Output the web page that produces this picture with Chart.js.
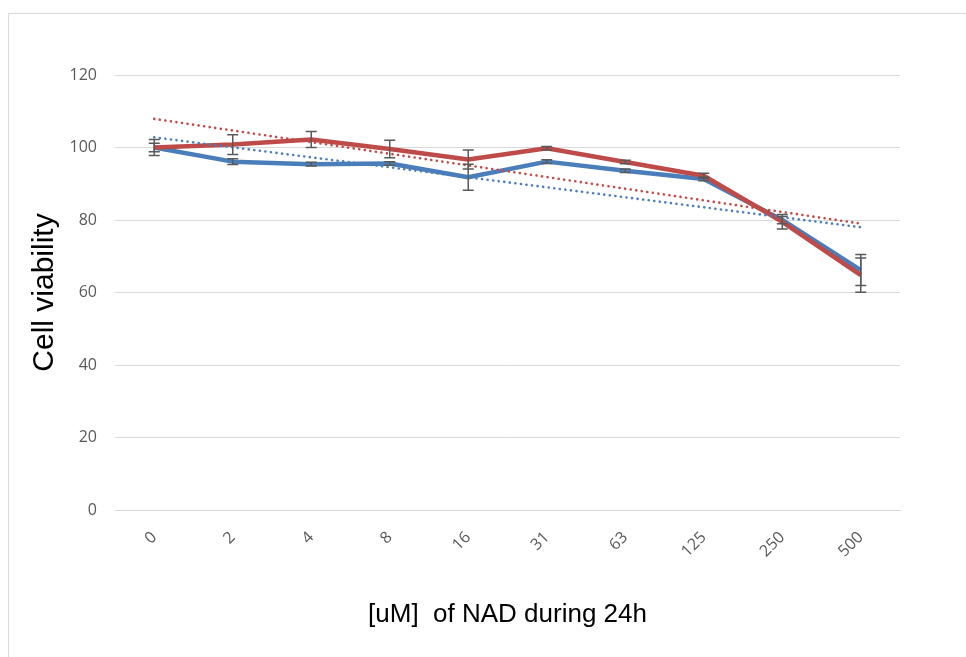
<!DOCTYPE html>
<html>
<head>
<meta charset="utf-8">
<script src="https://cdn.jsdelivr.net/npm/chart.js@4"></script>
<style>
  html, body { margin: 0; padding: 0; background: #fff; }
  #wrap { position: relative; width: 966px; height: 657px; }
  #frame { position: absolute; left: 8px; top: 13px; right: 0; bottom: 0;
           border-left: 1px solid #d9d9d9; border-top: 1px solid #d9d9d9; }
  canvas { position: absolute; left: 0; top: 0; }
</style>
</head>
<body>
<div id="wrap">
  <div id="frame"></div>
  <canvas id="c" width="966" height="657"></canvas>
</div>
<script>
const categories = ['0', '2', '4', '8', '16', '31', '63', '125', '250', '500'];
const blueValues = [100, 96.1, 95.4, 95.6, 91.8, 96.1, 93.6, 91.3, 80.0, 66.2];
const redValues  = [100, 100.8, 102.2, 99.6, 96.7, 99.8, 96.0, 92.2, 79.5, 64.8];
const blueErrors = [1.2, 0.8, 0.5, 0.5, 3.6, 0.5, 0.5, 0.5, 1.0, 4.3];
const redErrors  = [2.2, 2.7, 2.2, 2.4, 2.6, 0.5, 0.5, 0.7, 2.0, 4.7];
const blueTrend  = [102.8, null, null, null, null, null, null, null, null, 78.0];
const redTrend   = [107.9, null, null, null, null, null, null, null, null, 79.0];
const yTicks = [0, 20, 40, 60, 80, 100, 120];

const BLUE = '#4a7ebb';
const RED = '#be4b48';

const errorBarPlugin = {
  id: 'errorBars',
  afterDatasetsDraw(chart) {
    const ctx = chart.ctx;
    const xs = chart.scales.x, ys = chart.scales.y;
    const sets = [[blueValues, blueErrors], [redValues, redErrors]];
    ctx.save();
    ctx.strokeStyle = '#595959';
    ctx.lineWidth = 1.5;
    sets.forEach(([vals, errs]) => {
      vals.forEach((v, i) => {
        const x = xs.getPixelForValue(i);
        const yt = ys.getPixelForValue(v + errs[i]);
        const yb = ys.getPixelForValue(v - errs[i]);
        ctx.beginPath();
        ctx.moveTo(x, yt); ctx.lineTo(x, yb);
        ctx.moveTo(x - 5.5, yt); ctx.lineTo(x + 5.5, yt);
        ctx.moveTo(x - 5.5, yb); ctx.lineTo(x + 5.5, yb);
        ctx.stroke();
      });
    });
    ctx.restore();
  }
};

new Chart(document.getElementById('c'), {
  type: 'line',
  data: {
    labels: categories,
    datasets: [
      { data: blueTrend, borderColor: BLUE, borderWidth: 2.6, borderDash: [0.1, 5.5],
        borderCapStyle: 'round', spanGaps: true, pointRadius: 0, order: 0 },
      { data: redTrend, borderColor: RED, borderWidth: 2.6, borderDash: [0.1, 5.5],
        borderCapStyle: 'round', spanGaps: true, pointRadius: 0, order: 0 },
      { data: redValues, borderColor: RED, borderWidth: 4.5, pointRadius: 0, order: 1,
        borderJoinStyle: 'round', tension: 0 },
      { data: blueValues, borderColor: BLUE, borderWidth: 4.5, pointRadius: 0, order: 2,
        borderJoinStyle: 'round', tension: 0 }
    ]
  },
  options: {
    responsive: false,
    animation: false,
    devicePixelRatio: 1,
    layout: { padding: { left: 0, right: 66, top: 75, bottom: 0 } },
    plugins: { legend: { display: false }, tooltip: { enabled: false } },
    scales: {
      x: {
        offset: true,
        grid: { display: false, drawTicks: false, offset: true },
        border: { display: true, color: '#d9d9d9', width: 1 },
        ticks: { color: '#595959', font: { family: 'Open Sans', size: 16 },
                 minRotation: 45, maxRotation: 45, padding: 18 },
        title: { display: true, text: '[uM]  of NAD during 24h', color: '#000',
                 font: { family: 'Liberation Sans', size: 26 }, padding: { top: 27, bottom: 27 } },
        afterFit(scale) { scale.height = 147; }
      },
      y: {
        min: 0, max: 120,
        afterBuildTicks(scale) { scale.ticks = yTicks.map(v => ({ value: v })); },
        grid: { color: '#d9d9d9', lineWidth: 1, drawTicks: false },
        border: { display: false },
        ticks: { color: '#595959', font: { family: 'Open Sans', size: 16 }, padding: 18 },
        title: { display: true, text: 'Cell viability', color: '#000',
                 font: { family: 'Liberation Sans', size: 30 }, padding: { top: 27, bottom: 27 } },
        afterFit(scale) { scale.width = 115; }
      }
    }
  },
  plugins: [errorBarPlugin]
});
</script>
</body>
</html>
